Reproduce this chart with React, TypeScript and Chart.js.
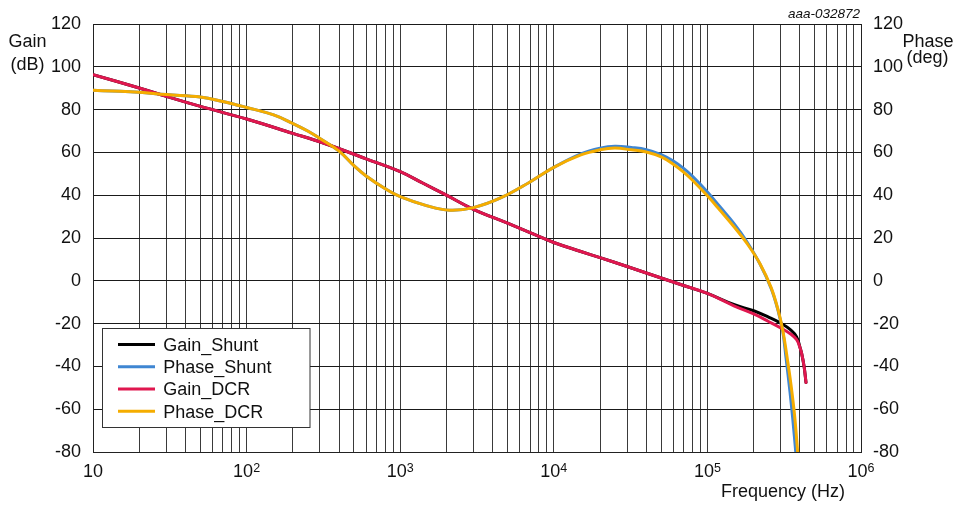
import React, { useEffect, useRef } from "react";
import { Chart, registerables } from "chart.js";

Chart.register(...registerables);

const FONT = "'Liberation Sans', Arial, sans-serif";

// Frequencies (Hz) for the gain curves
const gainFreq = [10, 20, 30, 50, 100, 200, 316, 600, 1000, 1400, 2000, 3000, 5000, 7000, 10000, 15000, 20000, 30000, 50000, 70000, 100000, 150000, 200000, 250000, 300000, 350000, 381000, 400000, 411000, 426000, 438500];
const gainShunt = [96.3, 90.1, 86.2, 81.5, 75.6, 68.9, 64.4, 57.0, 51.0, 45.7, 40.0, 33.4, 26.9, 22.5, 17.9, 13.7, 10.8, 6.7, 1.3, -2.2, -5.9, -11.2, -14.0, -17.0, -19.8, -23.0, -26.2, -30.9, -34.0, -40.0, -47.5];
const gainDCR = [96.3, 90.1, 86.2, 81.5, 75.6, 68.9, 64.4, 57.0, 51.0, 45.7, 40.0, 33.4, 26.9, 22.5, 17.9, 13.7, 10.8, 6.7, 1.3, -2.2, -5.9, -11.8, -15.5, -19.0, -22.0, -25.0, -27.5, -31.0, -34.0, -40.0, -47.5];

// Frequencies (Hz) for the phase curves
const phaseFreqDCR = [10, 15, 20, 30, 50, 70, 100, 150, 200, 250, 300, 400, 500, 600, 800, 1000, 1500, 2100, 3000, 4500, 7000, 10000, 15000, 20000, 25000, 32000, 40000, 50000, 60000, 70000, 80000, 100000, 120000, 150000, 180000, 220000, 260000, 290000, 310000, 330000, 350000, 370000, 387000];
const phaseDCR = [89.0, 88.6, 88.1, 87.0, 85.9, 83.8, 81.0, 77.5, 73.5, 70.0, 66.5, 60.6, 53.8, 49.0, 43.0, 39.3, 35.0, 33.0, 34.2, 38.7, 46.2, 53.0, 58.8, 61.2, 62.0, 61.2, 60.2, 57.9, 54.5, 50.8, 47.0, 39.7, 33.2, 25.0, 17.7, 8.0, -3.2, -14.2, -23.4, -35.6, -48.5, -63.3, -80.0];

const phaseFreqShunt = [10, 15, 20, 30, 50, 70, 100, 150, 200, 250, 300, 400, 500, 600, 800, 1000, 1500, 2100, 3000, 4500, 7000, 10000, 15000, 20000, 25000, 32000, 40000, 50000, 60000, 70000, 80000, 100000, 120000, 150000, 180000, 220000, 260000, 290000, 310000, 325000, 345000, 360000, 376000];
const phaseShunt = [89.0, 88.6, 88.1, 87.0, 85.9, 83.8, 81.0, 77.5, 73.5, 70.0, 66.5, 60.6, 53.8, 49.0, 43.0, 39.3, 35.0, 33.0, 34.2, 38.7, 46.2, 53.0, 59.3, 62.0, 62.9, 62.3, 61.3, 59.0, 56.0, 52.5, 48.8, 41.5, 34.8, 26.5, 18.5, 7.8, -3.6, -14.6, -24.0, -36.0, -52.0, -65.0, -80.0];

const seriesNames = ["Gain_Shunt", "Phase_Shunt", "Gain_DCR", "Phase_DCR"];
const seriesColors = ["#000000", "#3f86d2", "#e0174f", "#f5ad00"];

const decadeExponents = [1, 2, 3, 4, 5, 6];
const xGridValues: number[] = [];
for (let e = 1; e <= 5; e++) {
  for (let m = 1; m <= 9; m++) xGridValues.push(m * Math.pow(10, e));
}
xGridValues.push(1e6);

const yTickMin = -80;
const yTickMax = 120;
const yTickStep = 20;

const toPoints = (xs: number[], ys: number[]) => xs.map((x, i) => ({ x, y: ys[i] }));

const decorPlugin = {
  id: "decor",
  afterDraw(chart: any) {
    const ctx = chart.ctx;
    const xs = chart.scales.x;
    ctx.save();
    ctx.fillStyle = "#111";
    ctx.textAlign = "left";
    ctx.textBaseline = "alphabetic";

    // x tick labels with superscript exponents
    decadeExponents.forEach((e) => {
      const px = xs.getPixelForValue(Math.pow(10, e));
      ctx.font = `18px ${FONT}`;
      const bw = ctx.measureText("10").width;
      const expStr = e === 1 ? "" : String(e);
      ctx.font = `12.5px ${FONT}`;
      const ew = expStr ? ctx.measureText(expStr).width : 0;
      const start = px - (bw + ew) / 2;
      ctx.font = `18px ${FONT}`;
      ctx.fillText("10", start, 477);
      if (expStr) {
        ctx.font = `12.5px ${FONT}`;
        ctx.fillText(expStr, start + bw, 471.5);
      }
    });

    // axis titles
    ctx.font = `18px ${FONT}`;
    ctx.textAlign = "center";
    ctx.fillText("Gain", 27.5, 47);
    ctx.fillText("(dB)", 27.5, 70);
    ctx.fillText("Phase", 928, 47);
    ctx.fillText("(deg)", 927.5, 63);
    ctx.fillText("Frequency (Hz)", 783, 496.5);

    ctx.font = `italic 13.5px ${FONT}`;
    ctx.textAlign = "right";
    ctx.fillText("aaa-032872", 860, 17.5);

    // legend
    const bx = 102.5, by = 328.5, bw2 = 207.5, bh = 99;
    ctx.fillStyle = "#ffffff";
    ctx.fillRect(bx, by, bw2, bh);
    ctx.strokeStyle = "#333";
    ctx.lineWidth = 1;
    ctx.strokeRect(bx, by, bw2, bh);
    ctx.textAlign = "left";
    ctx.font = `18px ${FONT}`;
    const datasets = chart.data.datasets;
    datasets.forEach((ds: any, i: number) => {
      const base = 350.7 + i * 22.3;
      ctx.strokeStyle = ds.borderColor;
      ctx.lineWidth = 3;
      ctx.beginPath();
      ctx.moveTo(118, base - 6.3);
      ctx.lineTo(155, base - 6.3);
      ctx.stroke();
      ctx.fillStyle = "#111";
      ctx.fillText(ds.label, 163.3, base);
    });
    ctx.restore();
  },
};

export default function App() {
  const canvasRef = useRef<HTMLCanvasElement | null>(null);

  useEffect(() => {
    if (!canvasRef.current) return;
    const tickFont = { family: FONT, size: 18 };
    const chart = new Chart(canvasRef.current, {
      type: "line",
      data: {
        datasets: [
          {
            label: seriesNames[0],
            data: toPoints(gainFreq, gainShunt),
            borderColor: seriesColors[0],
            yAxisID: "y",
            order: 3,
          },
          {
            label: seriesNames[1],
            data: toPoints(phaseFreqShunt, phaseShunt),
            borderColor: seriesColors[1],
            yAxisID: "y2",
            order: 2,
          },
          {
            label: seriesNames[2],
            data: toPoints(gainFreq, gainDCR),
            borderColor: seriesColors[2],
            yAxisID: "y",
            order: 1,
          },
          {
            label: seriesNames[3],
            data: toPoints(phaseFreqDCR, phaseDCR),
            borderColor: seriesColors[3],
            yAxisID: "y2",
            order: 0,
          },
        ] as any,
      },
      options: {
        responsive: false,
        animation: false,
        devicePixelRatio: 1,
        layout: { padding: { top: 24, left: 0, right: 0, bottom: 0 } },
        plugins: { legend: { display: false }, tooltip: { enabled: false } },
        elements: {
          point: { radius: 0 },
          line: { borderWidth: 3, tension: 0.4, fill: false, borderCapStyle: "round", borderJoinStyle: "round" },
        },
        scales: {
          x: {
            type: "logarithmic",
            min: 10,
            max: 1e6,
            afterBuildTicks: (s: any) => {
              s.ticks = xGridValues.map((v) => ({ value: v }));
            },
            afterFit: (s: any) => {
              s.height = 53;
            },
            ticks: { display: false },
            grid: { color: "#3a3a3a", lineWidth: 1, drawTicks: false },
            border: { display: true, color: "#222" },
          },
          y: {
            position: "left",
            min: yTickMin,
            max: yTickMax,
            afterFit: (s: any) => {
              s.width = 93;
            },
            ticks: { stepSize: yTickStep, padding: 12, color: "#111", font: tickFont },
            grid: { color: "#1a1a1a", lineWidth: 1, drawTicks: false },
            border: { color: "#222" },
          },
          y2: {
            position: "right",
            min: yTickMin,
            max: yTickMax,
            afterFit: (s: any) => {
              s.width = 97;
            },
            ticks: { stepSize: yTickStep, padding: 12, color: "#111", font: tickFont },
            grid: { display: false, drawTicks: false },
            border: { color: "#222" },
          },
        },
      } as any,
      plugins: [decorPlugin],
    });
    return () => chart.destroy();
  }, []);

  return (
    <div style={{ position: "fixed", left: 0, top: 0, width: 958, height: 505, background: "#fff" }}>
      <canvas ref={canvasRef} width={958} height={505} style={{ width: 958, height: 505, display: "block" }} />
    </div>
  );
}
